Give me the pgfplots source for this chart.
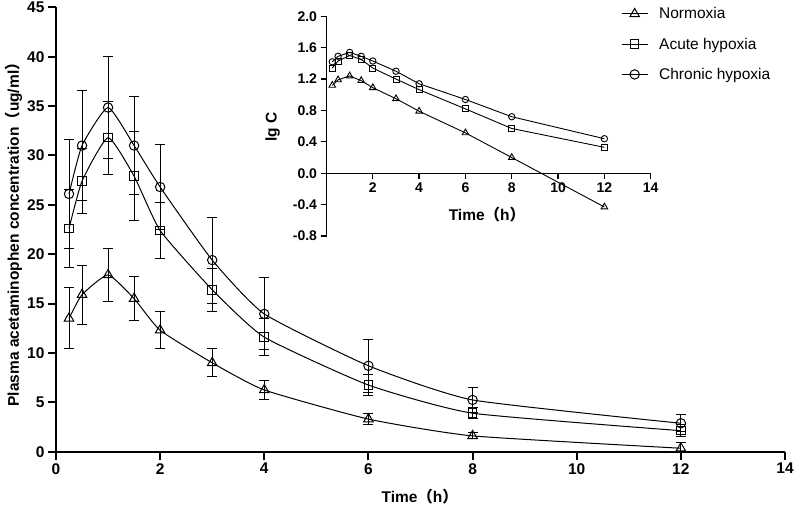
\documentclass[border=0pt]{standalone}
\usepackage{pgfplots}
\pgfplotsset{compat=1.18}
\usepackage{fontspec}
\setmainfont{Liberation Sans}
\newfontfamily\cjk{Noto Sans CJK SC}
\newcommand{\lp}{{\cjk （}}
\newcommand{\rp}{{\cjk ）}}
\begin{document}
\begin{tikzpicture}
\useasboundingbox (0pt,0pt) rectangle (796pt,511pt);
\begin{axis}[
  at={(56pt,59.3pt)}, anchor=south west,
  scale only axis, width=729pt, height=444.4pt,
  xmin=0, xmax=14, ymin=0, ymax=45,
  axis lines=left,
  axis line style={-, line width=2pt},
  xtick={0,2,...,14}, ytick={0,5,...,45},
  tick align=outside, major tick length=8pt,
  tick style={line width=2pt, black},
  /pgf/number format/assume math mode=true,
  tick label style={font=\bfseries\fontsize{15.5}{16}\selectfont},
  xlabel={\bfseries Time\lp h\rp},
  ylabel={\bfseries Plasma acetaminophen concentration\lp ug/ml\rp},
  label style={font=\bfseries\fontsize{15.5}{16}\selectfont},
  xlabel style={at={(axis description cs:0.499,-0.102)}, anchor=center},
  ylabel style={at={(axis description cs:-0.058,0.497)}, anchor=center},
  legend style={at={(axis description cs:0.775,1.002)}, anchor=north west,
    draw=none, fill=none, inner sep=0pt, row sep=15.5pt, column sep=10pt,
    nodes={inner sep=1pt},
    font=\fontsize{15.5}{15.5}\selectfont},
  legend cell align=left,
  legend image code/.code={\draw[mark repeat=2,mark phase=2] plot coordinates {(0pt,0pt)(13pt,0pt)(26pt,0pt)};},
  error bars/y dir=both, error bars/y explicit,
  error bars/error mark options={rotate=90, mark size=5pt, line width=1pt, black},
  error bars/error bar style={line width=1pt, black},
]
\addplot[black, line width=1pt, smooth, tension=0.3, mark=triangle, mark size=5.5pt, mark options={solid, line width=1pt, fill=none}]
  coordinates {
  (0.25,13.5) +- (0,3.1)
  (0.5,15.9) +- (0,3.0)
  (1,17.9) +- (0,2.7)
  (1.5,15.5) +- (0,2.2)
  (2,12.3) +- (0,1.9)
  (3,9.0) +- (0,1.4)
  (4,6.25) +- (0,0.95)
  (6,3.3) +- (0,0.55)
  (8,1.6) +- (0,0.3)
  (12,0.35) +- (0,0.55)
  };
\addlegendentry{Normoxia}
\addplot[black, line width=1pt, smooth, tension=0.3, mark=square, mark size=4.3pt, mark options={solid, line width=1pt, fill=none}]
  coordinates {
  (0.25,22.6) +- (0,3.9)
  (0.5,27.4) +- (0,3.3)
  (1,31.8) +- (0,3.7)
  (1.5,27.9) +- (0,4.5)
  (2,22.4) +- (0,2.8)
  (3,16.4) +- (0,2.2)
  (4,11.6) +- (0,1.85)
  (6,6.75) +- (0,1.1)
  (8,3.9) +- (0,0.55)
  (12,2.13) +- (0,0.6)
  };
\addlegendentry{Acute hypoxia}
\addplot[black, line width=1pt, smooth, tension=0.3, mark=o, mark size=4.7pt, mark options={solid, line width=1pt, fill=none}]
  coordinates {
  (0.25,26.1) +- (0,5.5)
  (0.5,31.0) +- (0,5.6)
  (1,34.85) +- (0,5.2)
  (1.5,31.0) +- (0,5.0)
  (2,26.8) +- (0,4.3)
  (3,19.4) +- (0,4.35)
  (4,13.95) +- (0,3.65)
  (6,8.7) +- (0,2.7)
  (8,5.24) +- (0,1.3)
  (12,2.88) +- (0,0.85)
  };
\addlegendentry{Chronic hypoxia}
\end{axis}
\begin{axis}[
  at={(326.5pt,275pt)}, anchor=south west,
  scale only axis, width=324.2pt, height=219.7pt,
  xmin=0, xmax=14, ymin=-0.8, ymax=2.0,
  axis x line=middle, axis y line=left,
  axis line style={-, line width=1.3pt},
  xtick={2,4,...,14}, ytick={-0.8,-0.4,...,2.0},
  tick align=outside, major tick length=6pt,
  tick style={line width=1.3pt, black},
  /pgf/number format/assume math mode=true,
  yticklabel style={/pgf/number format/.cd, fixed, fixed zerofill, precision=1},
  tick label style={font=\bfseries\fontsize{14}{14}\selectfont},
  xlabel={\bfseries Time\lp h\rp},
  ylabel={\bfseries lg C},
  label style={font=\bfseries\fontsize{15.5}{16}\selectfont},
  xlabel style={at={(axis description cs:0.495,0.096)}, anchor=center},
  ylabel style={at={(axis description cs:-0.166,0.496)}, anchor=center},
  clip=false,
]
\addplot[black, line width=0.9pt, mark=triangle, mark size=3.8pt, mark options={solid, line width=0.9pt, fill=none}]
  coordinates {(0.25,1.12)(0.5,1.19)(1,1.24)(1.5,1.18)(2,1.09)(3,0.95)(4,0.79)(6,0.514)(8,0.20)(12,-0.43)};
\addplot[black, line width=0.9pt, mark=square, mark size=3.0pt, mark options={solid, line width=0.9pt, fill=none}]
  coordinates {(0.25,1.34)(0.5,1.43)(1,1.50)(1.5,1.45)(2,1.34)(3,1.20)(4,1.065)(6,0.82)(8,0.57)(12,0.33)};
\addplot[black, line width=0.9pt, mark=o, mark size=3.2pt, mark options={solid, line width=0.9pt, fill=none}]
  coordinates {(0.25,1.42)(0.5,1.49)(1,1.54)(1.5,1.49)(2,1.43)(3,1.30)(4,1.14)(6,0.94)(8,0.72)(12,0.44)};
\end{axis}
\end{tikzpicture}
\end{document}
